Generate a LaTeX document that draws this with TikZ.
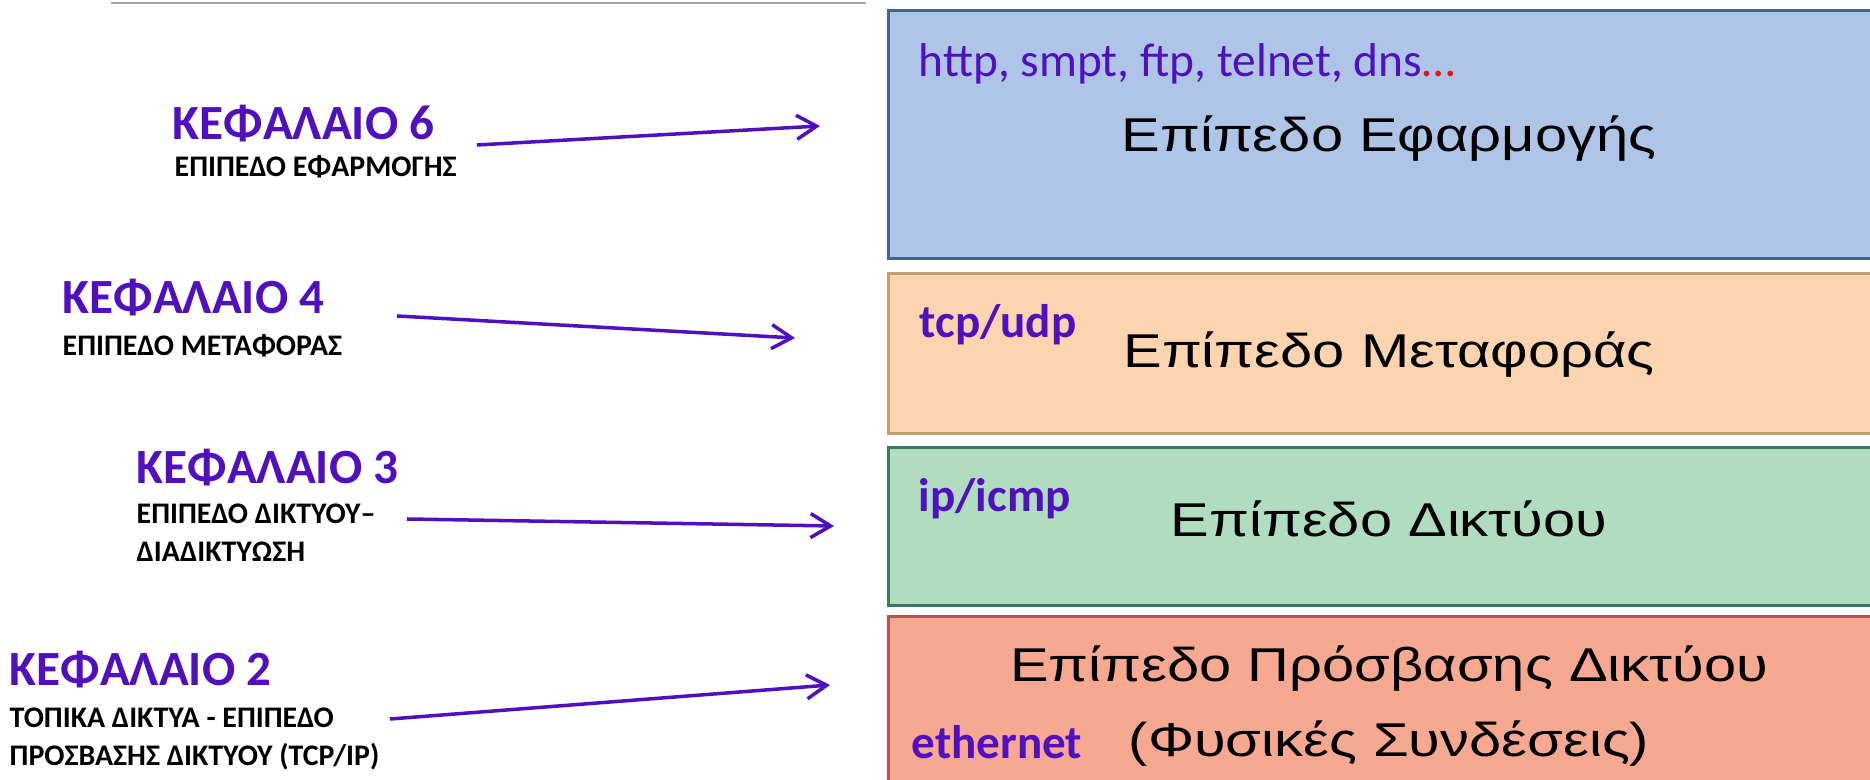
\documentclass[tikz,border=0pt]{standalone}
\usepackage{fontspec}
\setmainfont{Carlito}
\newfontfamily\layerfont[FakeStretch=1.22]{Liberation Sans}
\usetikzlibrary{arrows.meta}
\definecolor{chapviolet}{RGB}{80,16,192}
\definecolor{dotsred}{RGB}{230,20,20}
\definecolor{rulegray}{RGB}{165,165,165}
\definecolor{appfill}{RGB}{174,197,231}
\definecolor{appline}{RGB}{64,104,138}
\definecolor{trnfill}{RGB}{252,213,176}
\definecolor{trnline}{RGB}{196,160,112}
\definecolor{netfill}{RGB}{176,220,192}
\definecolor{netline}{RGB}{60,120,95}
\definecolor{accfill}{RGB}{246,168,145}
\definecolor{accline}{RGB}{190,80,80}

\begin{document}
\begin{tikzpicture}
    [x=0.1mm, y=-0.1mm,
    chapter/.style={anchor=west, inner sep=0pt, text=chapviolet, font=\fontsize{14}{16}\selectfont\bfseries},
    topic/.style={anchor=west, inner sep=0pt, align=left, font=\fontsize{8.5}{10.8}\selectfont\bfseries},
    layer/.style={anchor=north west, inner sep=0pt, line width=0.75pt, minimum width=101mm, minimum height=#1},
    layername/.style={anchor=base, inner sep=0pt, font=\layerfont\fontsize{13.5}{15}\selectfont},
    proto/.style={anchor=base west, inner sep=0pt, text=chapviolet, font=\fontsize{13.4}{15}\selectfont\bfseries},
    ->-/.style={draw=chapviolet, line width=1pt, -{Straight Barb[length=2mm, width=2.4mm]}}]
        \useasboundingbox (0,0) rectangle (1870,780);
        \clip (0,0) rectangle (1870,780);

        \coordinate (r1) at (111,3);
        \coordinate (r2) at (866,3);
        \draw[rulegray, line width=0.6pt] (r1) -- (r2);

        \node[layer=24.8mm, draw=appline, fill=appfill] (L4) at (887,9) {};
        \node[layer=16mm, draw=trnline, fill=trnfill] (L3) at (887,272) {};
        \node[layer=15.8mm, draw=netline, fill=netfill] (L2) at (887,446) {};
        \node[layer=18mm, draw=accline, fill=accfill] (L1) at (887,615) {};

        \node[anchor=base west, inner sep=0pt, text=chapviolet, font=\fontsize{13.5}{15}\selectfont] (apps) at (918,77) {http, smpt, ftp, telnet, dns\textcolor{dotsred}{…}};
        \node[layername] (n4) at (1389,152) {Επίπεδο Εφαρμογής};
        \node[proto] (tcp) at (919,338) {tcp/udp};
        \node[layername] (n3) at (1389,368) {Επίπεδο Μεταφοράς};
        \node[proto] (ip) at (918,512) {ip/icmp};
        \node[layername] (n2) at (1389,537) {Επίπεδο Δικτύου};
        \node[layername] (n1a) at (1389,682) {Επίπεδο Πρόσβασης Δικτύου};
        \node[layername] (n1b) at (1389,757) {(Φυσικές Συνδέσεις)};
        \node[proto] (eth) at (911,759) {ethernet};

        \node[chapter] (K6) at (172,124) {ΚΕΦΑΛΑΙΟ 6};
        \node[topic] (T6) at (174,167) {ΕΠΙΠΕΔΟ ΕΦΑΡΜΟΓΗΣ};
        \node[chapter] (K4) at (62,298) {ΚΕΦΑΛΑΙΟ 4};
        \node[topic] (T4) at (62,346) {ΕΠΙΠΕΔΟ ΜΕΤΑΦΟΡΑΣ};
        \node[chapter] (K3) at (136,468) {ΚΕΦΑΛΑΙΟ 3};
        \node[topic, anchor=north west] (T3) at (136,503) {ΕΠΙΠΕΔΟ ΔΙΚΤΥΟΥ–\\ΔΙΑΔΙΚΤΥΩΣΗ};
        \node[chapter] (K2) at (9,670) {ΚΕΦΑΛΑΙΟ 2};
        \node[topic, anchor=north west] (T2) at (9,707) {ΤΟΠΙΚΑ ΔΙΚΤΥΑ - ΕΠΙΠΕΔΟ\\ΠΡΟΣΒΑΣΗΣ ΔΙΚΤΥΟΥ (TCP/IP)};

        \coordinate (a6) at (477,145);
        \coordinate (b6) at (820,126);
        \coordinate (a4) at (397,316);
        \coordinate (b4) at (795,338);
        \coordinate (a3) at (407,519);
        \coordinate (b3) at (834,526);
        \coordinate (a2) at (390,719);
        \coordinate (b2) at (830,685);
        \draw[->-] (a6) -- (b6);
        \draw[->-] (a4) -- (b4);
        \draw[->-] (a3) -- (b3);
        \draw[->-] (a2) -- (b2);
   \end{tikzpicture}
\end{document}
